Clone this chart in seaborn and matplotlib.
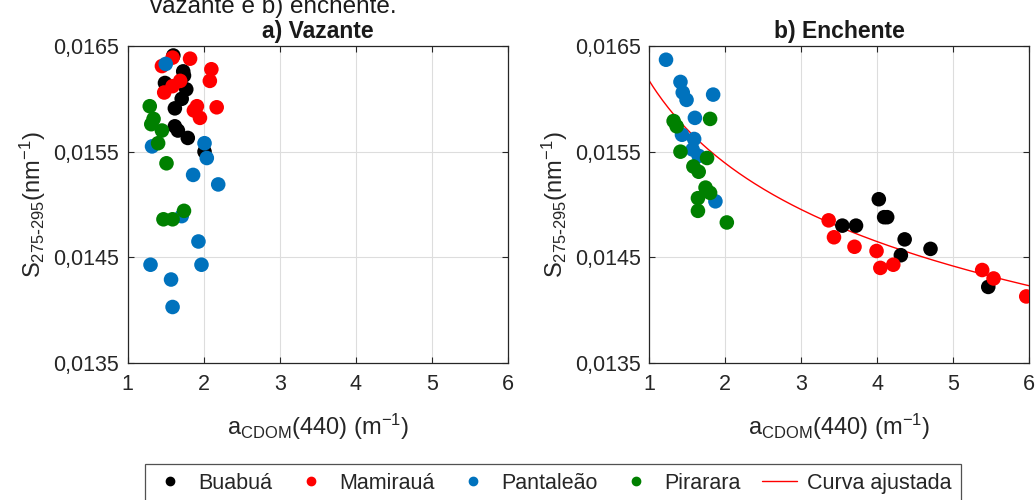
import numpy as np
import pandas as pd
import matplotlib
matplotlib.use("Agg")
import matplotlib.pyplot as plt
from matplotlib.lines import Line2D
from matplotlib.ticker import FuncFormatter
import seaborn as sns

# --- Vazante (falling water) ---
vaz_buabua_x = [1.60, 1.73, 1.74, 1.49, 1.77, 1.71, 1.62, 1.62, 1.66, 1.79, 2.01]
vaz_buabua_y = [0.01641, 0.01626, 0.01622, 0.01615, 0.01609, 0.01600, 0.01591,
                0.01574, 0.01570, 0.01563, 0.01550]
vaz_mamiraua_x = [1.59, 1.45, 1.82, 2.10, 2.08, 1.69, 1.59, 1.48, 1.91, 1.87, 1.95, 2.17]
vaz_mamiraua_y = [0.01639, 0.01631, 0.01638, 0.01628, 0.01617, 0.01617, 0.01612,
                  0.01606, 0.01593, 0.01589, 0.01582, 0.01592]
vaz_pantaleao_x = [1.50, 1.32, 2.01, 2.04, 1.86, 2.19, 1.71, 1.93, 1.30, 1.97, 1.57, 1.59]
vaz_pantaleao_y = [0.01633, 0.01555, 0.01558, 0.01544, 0.01528, 0.01519, 0.01489,
                   0.01465, 0.01443, 0.01443, 0.01429, 0.01403]
vaz_pirarara_x = [1.29, 1.34, 1.31, 1.45, 1.40, 1.51, 1.47, 1.59, 1.74]
vaz_pirarara_y = [0.01593, 0.01581, 0.01576, 0.01570, 0.01558, 0.01539, 0.01486,
                  0.01486, 0.01494]

# --- Enchente (rising water) ---
enc_buabua_x = [4.02, 4.09, 4.13, 3.54, 3.72, 4.36, 4.31, 4.70, 5.46]
enc_buabua_y = [0.01505, 0.01488, 0.01488, 0.01480, 0.01480, 0.01467, 0.01452,
                0.01458, 0.01422]
enc_mamiraua_x = [3.36, 3.43, 3.70, 3.99, 4.04, 4.21, 5.38, 5.53, 5.96]
enc_mamiraua_y = [0.01485, 0.01469, 0.01460, 0.01456, 0.01440, 0.01443, 0.01438,
                  0.01430, 0.01413]
enc_pantaleao_x = [1.22, 1.41, 1.44, 1.49, 1.84, 1.60, 1.43, 1.59, 1.57, 1.65, 1.87]
enc_pantaleao_y = [0.01637, 0.01616, 0.01606, 0.01599, 0.01604, 0.01582, 0.01566,
                   0.01562, 0.01552, 0.01546, 0.01503]
enc_pirarara_x = [1.32, 1.36, 1.80, 1.41, 1.76, 1.58, 1.65, 1.74, 1.80, 1.64, 1.64, 2.02]
enc_pirarara_y = [0.01579, 0.01574, 0.01581, 0.01550, 0.01544, 0.01536, 0.01531,
                  0.01516, 0.01511, 0.01506, 0.01494, 0.01483]

# Power-law fit S = a * aCDOM^b for the rising-water period
fit_a = 0.01617
fit_b = -0.0713

sites = ["Buabuá", "Mamirauá", "Pantaleão", "Pirarara"]
site_colors = ["#000000", "#FF0000", "#0072BD", "#008000"]
palette = dict(zip(sites, site_colors))


def frame(xs, ys):
    parts = []
    for site, x, y in zip(sites, xs, ys):
        parts.append(pd.DataFrame({"acdom": x, "s": y, "site": site}))
    return pd.concat(parts, ignore_index=True)


df_vaz = frame([vaz_buabua_x, vaz_mamiraua_x, vaz_pantaleao_x, vaz_pirarara_x],
               [vaz_buabua_y, vaz_mamiraua_y, vaz_pantaleao_y, vaz_pirarara_y])
df_enc = frame([enc_buabua_x, enc_mamiraua_x, enc_pantaleao_x, enc_pirarara_x],
               [enc_buabua_y, enc_mamiraua_y, enc_pantaleao_y, enc_pirarara_y])

sns.set_theme(style="white")
plt.rcParams["font.family"] = ["Liberation Sans", "DejaVu Sans"]
plt.rcParams["mathtext.default"] = "regular"

fig = plt.figure(figsize=(10.35, 5.0), dpi=100)
ax1 = fig.add_axes([127.7 / 1035, 1 - 363 / 500, (508 - 127.7) / 1035, (363 - 46) / 500])
ax2 = fig.add_axes([649.3 / 1035, 1 - 363 / 500, (1029.3 - 649.3) / 1035, (363 - 46) / 500])

comma_fmt = FuncFormatter(lambda v, p: f"{v:.4f}".replace(".", ","))
spine_col = "#262626"
text_col = "#262626"

for ax, df, title in [(ax1, df_vaz, "a) Vazante"), (ax2, df_enc, "b) Enchente")]:
    sns.scatterplot(data=df, x="acdom", y="s", hue="site", palette=palette,
                    s=110, linewidth=0, alpha=1, legend=False, ax=ax, zorder=3)
    ax.set_xlim(1, 6)
    ax.set_ylim(0.0135, 0.0165)
    ax.set_xticks([1, 2, 3, 4, 5, 6])
    ax.set_yticks([0.0135, 0.0145, 0.0155, 0.0165])
    ax.yaxis.set_major_formatter(comma_fmt)
    ax.grid(True, color="#dddddd", linewidth=0.8)
    ax.set_axisbelow(True)
    for sp in ax.spines.values():
        sp.set_visible(True)
        sp.set_color(spine_col)
        sp.set_linewidth(0.9)
    ax.tick_params(direction="in", length=4, width=0.8, color=spine_col,
                   top=True, right=True, bottom=True, left=True,
                   labelsize=15.5, labelcolor=text_col)
    ax.tick_params(axis="y", pad=6)
    ax.tick_params(axis="x", pad=8)
    ax.set_title(title, fontsize=16.5, fontweight="bold", pad=6, color="#1a1a1a")
    ax.set_xlabel(r"a$_{CDOM}$(440) (m$^{-1}$)", fontsize=17, color=text_col, labelpad=12)
    ax.set_ylabel(r"S$_{275\text{-}295}$(nm$^{-1}$)", fontsize=17, color=text_col, labelpad=4)

# Fitted curve for the rising-water period
xfit = np.linspace(1, 6, 200)
ax2.plot(xfit, fit_a * xfit ** fit_b, color="#FF0000", linewidth=1.0, zorder=2)

# Caption fragment above the panels
fig.text(150 / 1035, 1 - 13 / 500, "vazante e b) enchente.", fontsize=17.5,
         va="baseline", ha="left", color="#1a1a1a")

handles = [Line2D([], [], linestyle="none", marker="o", markersize=6,
                  markerfacecolor=c, markeredgecolor=c) for c in site_colors]
handles.append(Line2D([], [], color="#FF0000", linewidth=1.0))
labels = sites + ["Curva ajustada"]
leg = fig.legend(handles, labels, ncol=5, loc="upper center",
                 bbox_to_anchor=(552.5 / 1035, 1 - 464 / 500), frameon=True,
                 fancybox=False, edgecolor="#262626", fontsize=15.5,
                 handlelength=1.6, columnspacing=1.0, handletextpad=0.5,
                 borderpad=0.4, borderaxespad=0, labelcolor=text_col)
leg.get_frame().set_linewidth(0.9)

fig.savefig("out.png", dpi=100, facecolor="white")
